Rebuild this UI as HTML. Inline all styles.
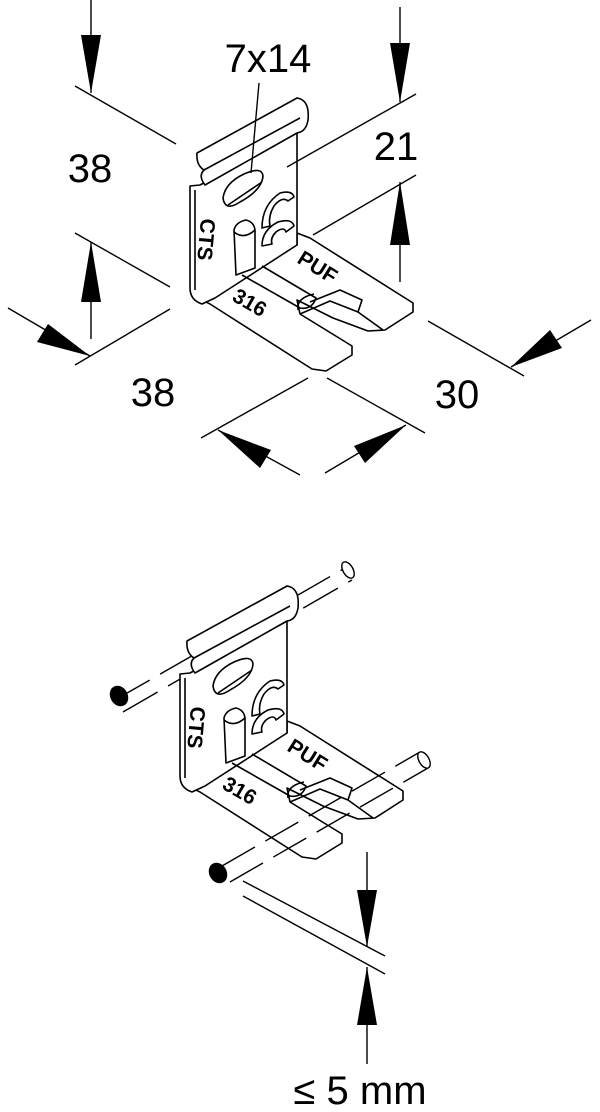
<!DOCTYPE html>
<html><head><meta charset="utf-8"><style>
html,body{margin:0;padding:0;background:#fff;}
svg{display:block;}
text{font-family:"Liberation Sans",sans-serif;fill:#000;}
</style></head><body>
<svg width="600" height="1112" viewBox="0 0 600 1112" xmlns="http://www.w3.org/2000/svg">
<defs>
<g id="clip" fill="#fff" stroke="#000" stroke-width="1.6" stroke-linejoin="round">
  <path d="M193,285 Q196,298 210,304 L312,369 L326,371 L352,355 L352,346 L300,314 L297,300 L333,318 L368,331 L385,330 L413,312 L413,303 L310,238 L297,233 L297,245 Z"/>
  <path d="M300,314 L330,301 L358,312 L362,300 L340,290 L310,302" fill="none"/>
  <path d="M358,312 L383,330" fill="none"/>
  <path d="M190,186 L190,288 Q190,300 202,304 L215,298 L297,245 L297,133 L200,185 Z"/>
  <path d="M195,190 L195,290" fill="none"/>
  <path d="M197,153 L297,98 Q310,100 308,120 Q306,132 297,133 L205,185 Q198,176 204,170 Q196,165 197,153 Z"/>
  <path d="M204,170 L300,118" fill="none"/>
  <path d="M223,198 Q225,183 244,174 Q262,166 263,176 Q262,190 240,202 Q225,212 223,198 Z"/>
  <path d="M228,205 L262,182" fill="none"/>
  <path d="M262,228 Q262,205 280,193 Q292,190 294,197 L288,201 Q282,196 274,206 Q268,216 270,226 Z"/>
  <path d="M262,246 Q262,230 278,222 Q292,218 294,226 L286,232 Q284,226 276,232 Q270,238 272,244 Z"/>
  <path d="M234,230 Q236,222 246,220 Q254,222 255,230 L255,268 L236,275 L234,230 Z"/>
  <path d="M234,232 Q244,240 255,230" fill="none"/>
  <path d="M242,275 L300,308 Q312,310 316,298 L262,266" fill="none"/>
  <path d="M298,310 Q296,298 314,294" fill="none"/>
</g>
</defs>

<use href="#clip"/>
<g fill="#000" font-weight="bold" font-size="21">
  <text transform="translate(201,218) rotate(95)">CTS</text>
  <text transform="translate(231,300) rotate(30)">316</text>
  <text transform="translate(296,262) rotate(32)">PUF</text>
</g>

<g stroke="#000" stroke-width="1.4" fill="none">
  <line x1="91" y1="0" x2="91" y2="93"/>
  <line x1="75" y1="86" x2="176" y2="144"/>
  <line x1="259" y1="83" x2="251" y2="173"/>
  <line x1="400" y1="7" x2="400" y2="102"/>
  <line x1="416" y1="94" x2="287" y2="167"/>
  <line x1="416" y1="175" x2="313" y2="235"/>
  <line x1="400" y1="182" x2="400" y2="282"/>
  <line x1="75" y1="233" x2="170" y2="287"/>
  <line x1="91" y1="242" x2="91" y2="339"/>
  <line x1="170" y1="309" x2="75" y2="365"/>
  <line x1="8" y1="308" x2="90" y2="356"/>
  <line x1="308" y1="378" x2="201" y2="438"/>
  <line x1="327" y1="378" x2="425" y2="433"/>
  <line x1="300" y1="475" x2="218" y2="430"/>
  <line x1="325" y1="473" x2="406" y2="425"/>
  <line x1="428" y1="321" x2="524" y2="376"/>
  <line x1="591" y1="320" x2="511" y2="367"/>
</g>
<g fill="#000">
  <polygon points="81,35 101,35 91,93"/>
  <polygon points="390,43 410,43 400,102"/>
  <polygon points="390,245 410,245 400,182"/>
  <polygon points="81,302 101,302 91,242"/>
  <polygon points="90,356 37,342 48,324"/>
  <polygon points="218,430 271,450 260,468"/>
  <polygon points="406,425 365,463 354,446"/>
  <polygon points="511,367 550,330 562,348"/>
</g>
<g font-size="40">
  <text x="90" y="182" text-anchor="middle">38</text>
  <text x="268" y="72" text-anchor="middle">7x14</text>
  <text x="396" y="160" text-anchor="middle">21</text>
  <text x="153" y="406" text-anchor="middle">38</text>
  <text x="457" y="408" text-anchor="middle">30</text>
</g>

<g stroke="#000" stroke-width="1.4" fill="#fff">
  <path d="M115,700 L345,568" stroke-dasharray="40,12" fill="none"/>
  <path d="M123,712 L352,580" stroke-dasharray="40,12" fill="none"/>
  <ellipse cx="348" cy="570" rx="5" ry="9" transform="rotate(-30 348 570)"/>
</g>
<use href="#clip" transform="translate(-10,488)"/>
<g fill="#000" font-weight="bold" font-size="21">
  <text transform="translate(191,706) rotate(95)">CTS</text>
  <text transform="translate(221,788) rotate(30)">316</text>
  <text transform="translate(286,750) rotate(32)">PUF</text>
</g>
<g stroke="#000" stroke-width="1.4" fill="#fff">
  <ellipse cx="119" cy="696" rx="8" ry="10" fill="#000" transform="rotate(-30 119 696)"/>
  <path d="M222,866 L420,752" stroke-dasharray="38,12" fill="none"/>
  <path d="M230,882 L428,768" stroke-dasharray="38,12" fill="none"/>
  <ellipse cx="424" cy="760" rx="5" ry="9" transform="rotate(-30 424 760)"/>
  <ellipse cx="218" cy="873" rx="8" ry="10" fill="#000" transform="rotate(-30 218 873)"/>
  <line x1="243" y1="881" x2="385" y2="956"/>
  <line x1="243" y1="896" x2="385" y2="974"/>
  <line x1="367" y1="852" x2="367" y2="947"/>
  <line x1="367" y1="967" x2="367" y2="1064"/>
</g>
<g fill="#000">
  <polygon points="357,890 377,890 367,947"/>
  <polygon points="357,1025 377,1025 367,967"/>
</g>
<text x="360" y="1104" font-size="40" text-anchor="middle">≤ 5 mm</text>
</svg>
</body></html>
